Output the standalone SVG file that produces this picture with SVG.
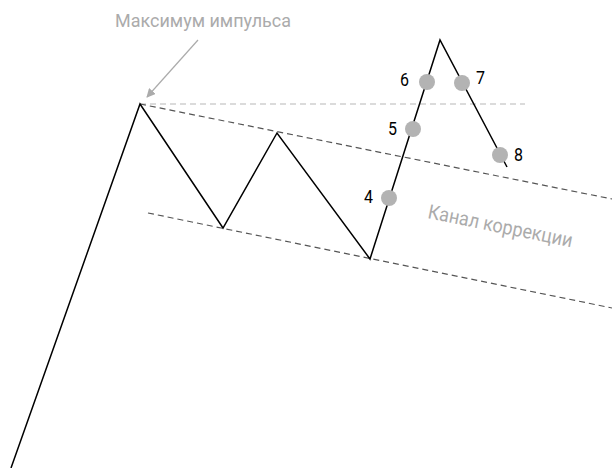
<svg xmlns="http://www.w3.org/2000/svg" width="612" height="468" viewBox="0 0 612 468">
<style>
.price{fill:none;stroke:#000;stroke-width:1.5;stroke-linejoin:miter}
.chan{fill:none;stroke:#555;stroke-width:1.2;stroke-dasharray:6 4}
.lvl{fill:none;stroke:#b8b8b8;stroke-width:1.2;stroke-dasharray:6 4}
.dot{fill:#b3b3b3}
.num{font-family:Roboto,"Liberation Sans",sans-serif;font-size:19px;fill:#000}
.lbl{font-family:Roboto,"Liberation Sans",sans-serif;fill:#ababab}
</style>
<defs>
<marker id="ah" viewBox="0 0 10 10" refX="9" refY="5" markerWidth="9" markerHeight="9" markerUnits="userSpaceOnUse" orient="auto">
<path d="M0,0 L10,5 L0,10 z" fill="#ababab"/>
</marker>
</defs>
<g id="connectors">
<line class="lvl" x1="140" y1="104" x2="525" y2="104"/>
<line class="chan" x1="140" y1="104" x2="612" y2="199"/>
<line class="chan" x1="148" y1="213" x2="612" y2="308"/>
<polyline class="price" points="11,468 140,104 223,228 277,133 370,259 440,40 507,167"/>
<line x1="198" y1="40" x2="147" y2="97" stroke="#ababab" stroke-width="1.2" marker-end="url(#ah)"/>
</g>
<g id="dots">
<circle class="dot" cx="389" cy="198" r="8"/>
<circle class="dot" cx="413" cy="129" r="8"/>
<circle class="dot" cx="427" cy="82" r="8"/>
<circle class="dot" cx="462" cy="83" r="8"/>
<circle class="dot" cx="500" cy="155" r="8"/>
</g>
<g id="p4"><text class="num" x="364" y="203" textLength="9" lengthAdjust="spacingAndGlyphs">4</text></g>
<g id="p5"><text class="num" x="388" y="135" textLength="9" lengthAdjust="spacingAndGlyphs">5</text></g>
<g id="p6"><text class="num" x="400" y="86" textLength="9" lengthAdjust="spacingAndGlyphs">6</text></g>
<g id="p7"><text class="num" x="476" y="84" textLength="9" lengthAdjust="spacingAndGlyphs">7</text></g>
<g id="p8"><text class="num" x="514" y="161" textLength="9" lengthAdjust="spacingAndGlyphs">8</text></g>
<g id="title"><text class="lbl" x="115" y="27" font-size="18" textLength="176" lengthAdjust="spacingAndGlyphs">Максимум импульса</text></g>
<g id="channel"><text class="lbl" x="427" y="218" font-size="20" textLength="147" lengthAdjust="spacingAndGlyphs" transform="rotate(11.5 427 218)">Канал коррекции</text></g>
</svg>
